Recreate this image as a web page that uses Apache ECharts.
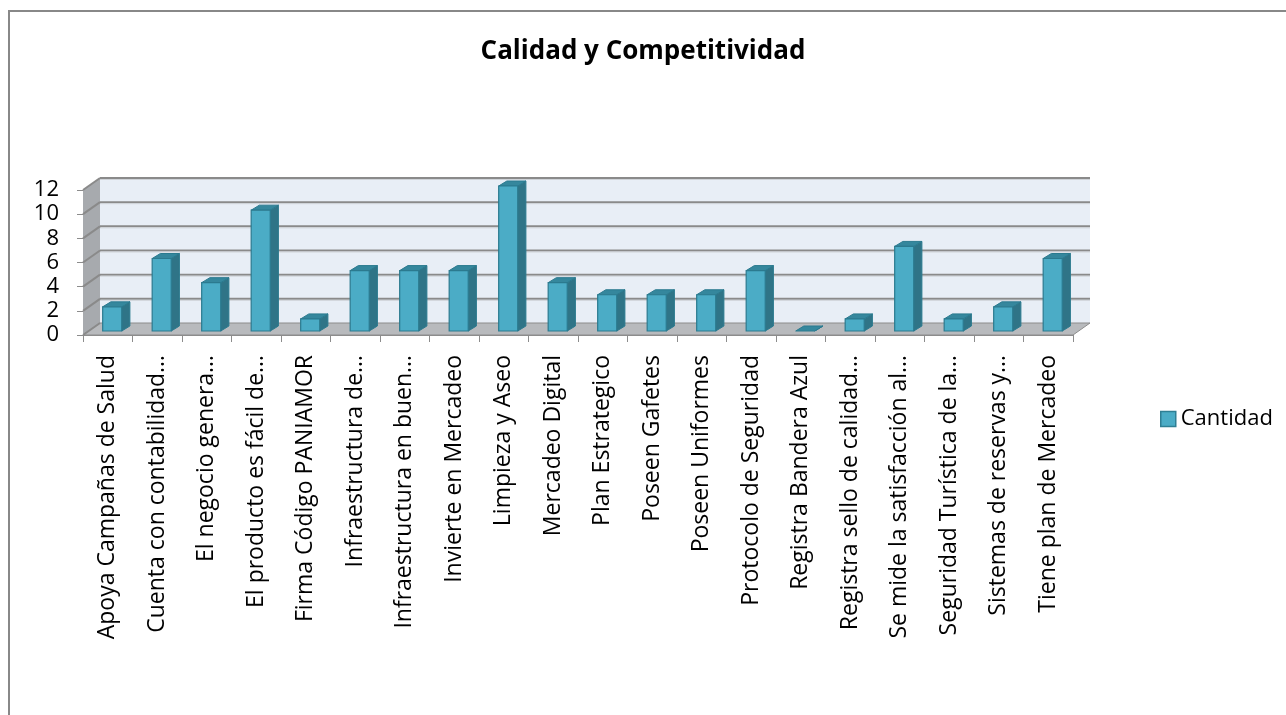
<!DOCTYPE html>
<html>
<head>
<meta charset="utf-8">
<script src="https://cdn.jsdelivr.net/npm/echarts@6/dist/echarts.min.js"></script>
<style>
  html, body { margin: 0; padding: 0; background: #fff; }
  #chart { width: 1286px; height: 715px; }
  #frame {
    position: absolute; left: 8px; top: 10px; width: 1300px; height: 720px;
    border-left: 2px solid #888; border-top: 2px solid #888; pointer-events: none;
  }
</style>
</head>
<body>
<div id="chart"></div>
<div id="frame"></div>
<script>
  // datos del grafico
  var categories = [
    'Apoya Campañas de Salud', 'Cuenta con contabilidad…', 'El negocio genera…',
    'El producto es fácil de…', 'Firma Código PANIAMOR', 'Infraestructura de…',
    'Infraestructura en buen…', 'Invierte en Mercadeo', 'Limpieza y Aseo',
    'Mercadeo Digital', 'Plan Estrategico', 'Poseen Gafetes', 'Poseen Uniformes',
    'Protocolo de Seguridad', 'Registra Bandera Azul', 'Registra sello de calidad…',
    'Se mide la satisfacción al…', 'Seguridad Turística de la…', 'Sistemas de reservas y…',
    'Tiene plan de Mercadeo'
  ];
  var cantidad = [2, 6, 4, 10, 1, 5, 5, 5, 12, 4, 3, 3, 3, 5, 0, 1, 7, 1, 2, 6];
  var yTicks = [0, 2, 4, 6, 8, 10, 12];

  var chart = echarts.init(document.getElementById('chart'));

  // desplazamiento de la pared del fondo (efecto 3D)
  var DX = 17, DY = -12;

  function renderWalls(params, api) {
    var cs = params.coordSys;
    var x0 = cs.x, x1 = cs.x + cs.width;
    var yb = api.coord([0, 0])[1];
    var yt = api.coord([0, 12])[1];
    var kids = [];
    // pared del fondo
    kids.push({ type: 'polygon', shape: { points: [[x0 + DX, yt + DY], [x1 + DX, yt + DY], [x1 + DX, yb + DY], [x0 + DX, yb + DY]] },
      style: { fill: '#e8eef6' } });
    // pared lateral
    kids.push({ type: 'polygon', shape: { points: [[x0, yb], [x0, yt], [x0 + DX, yt + DY], [x0 + DX, yb + DY]] },
      style: { fill: '#a7aaae' } });
    // piso
    kids.push({ type: 'polygon', shape: { points: [[x0, yb], [x1, yb], [x1 + DX, yb + DY], [x0 + DX, yb + DY]] },
      style: { fill: '#b8babd', stroke: '#8c8c8c', lineWidth: 1 } });
    yTicks.forEach(function (v) {
      var y = api.coord([0, v])[1];
      if (v > 0) {
        kids.push({ type: 'line', shape: { x1: x0 + DX, y1: y + DY, x2: x1 + DX, y2: y + DY },
          style: { stroke: '#8a8a8a', lineWidth: 2 } });
        kids.push({ type: 'line', shape: { x1: x0 + DX, y1: y + DY + 1.5, x2: x1 + DX, y2: y + DY + 1.5 },
          style: { stroke: '#cfd3d8', lineWidth: 1 } });
      }
      kids.push({ type: 'line', shape: { x1: x0, y1: y, x2: x0 + DX, y2: y + DY },
        style: { stroke: '#8a8a8a', lineWidth: 2 } });
    });
    return { type: 'group', children: kids };
  }

  function renderBar(params, api) {
    var i = api.value(0), v = api.value(1);
    var band = api.size([1, 0])[0];
    var p = api.coord([i, v]);
    var base = api.coord([i, 0]);
    var w = band * 0.385;
    var dx = band * 0.165, dy = -5;
    var x = p[0] + band * 0.09 - w / 2;
    var y = p[1] - 4, y0 = base[1] - 4;
    var stroke = '#2b7a8f';
    var kids = [];
    kids.push({ type: 'polygon', shape: { points: [[x + w, y], [x + w + dx, y + dy], [x + w + dx, y0 + dy], [x + w, y0]] },
      style: { fill: '#2f7487', stroke: stroke, lineWidth: 1 } });
    kids.push({ type: 'polygon', shape: { points: [[x, y], [x + dx, y + dy], [x + w + dx, y + dy], [x + w, y]] },
      style: { fill: '#35879d', stroke: stroke, lineWidth: 1 } });
    if (y0 - y > 0.5) {
      kids.push({ type: 'rect', shape: { x: x, y: y, width: w, height: y0 - y },
        style: { fill: '#4bacc6', stroke: stroke, lineWidth: 1.2 } });
    }
    return { type: 'group', children: kids };
  }

  var option = {
    animation: false,
    title: {
      text: 'Calidad y Competitividad',
      left: 'center',
      top: 34,
      textStyle: { fontFamily: 'Open Sans', fontWeight: 'bold', fontSize: 26, color: '#000' }
    },
    legend: {
      left: 1155,
      top: 403,
      itemWidth: 15,
      itemHeight: 15,
      itemGap: 5,
      textStyle: { fontFamily: 'Open Sans', fontSize: 22, color: '#000' },
      data: [{ name: 'Cantidad', icon: 'rect', itemStyle: { color: '#4bacc6', borderColor: '#2f7f94', borderWidth: 1.5 } }]
    },
    grid: { left: 83, right: 213, top: 190, bottom: 380 },
    xAxis: {
      type: 'category',
      data: categories,
      axisLine: { show: true, lineStyle: { color: '#8c8c8c', width: 1 } },
      axisTick: { show: true, interval: 0, length: 7, lineStyle: { color: '#8c8c8c' } },
      axisLabel: {
        interval: 0, rotate: 90, margin: 20, padding: [6, 0, 0, 0],
        fontFamily: 'Open Sans', fontSize: 23, color: '#000'
      },
      splitLine: { show: false }
    },
    yAxis: {
      type: 'value',
      min: 0, max: 12, interval: 2,
      axisLine: { show: true, lineStyle: { color: '#8c8c8c', width: 1 } },
      axisTick: { show: true, length: 6, lineStyle: { color: '#8c8c8c' } },
      axisLabel: { margin: 24, fontFamily: 'Open Sans', fontSize: 22, color: '#000' },
      splitLine: { show: false }
    },
    series: [
      {
        type: 'custom',
        name: 'paredes',
        silent: true,
        z: 1,
        renderItem: renderWalls,
        data: [[0, 0]]
      },
      {
        type: 'custom',
        name: 'Cantidad',
        z: 3,
        renderItem: renderBar,
        encode: { x: 0, y: 1 },
        data: cantidad.map(function (v, i) { return [i, v]; })
      }
    ]
  };
  chart.setOption(option);
</script>
</body>
</html>
